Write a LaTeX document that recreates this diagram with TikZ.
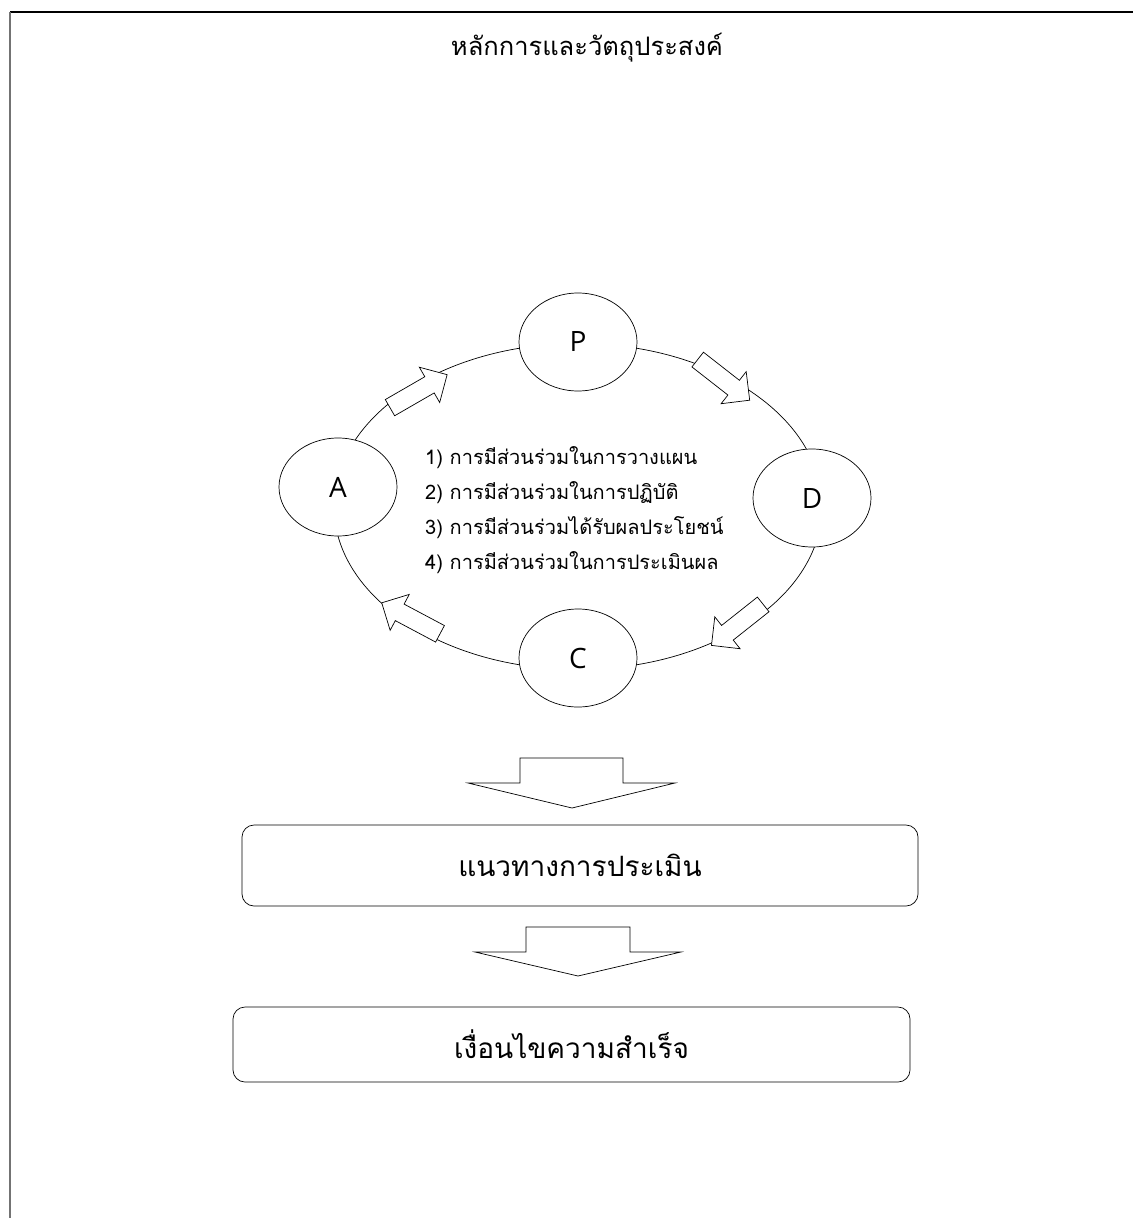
\documentclass[tikz,border=0pt]{standalone}
\usepackage{fontspec}
\newfontfamily\thaifont[Script=Thai]{Loma}
\newfontfamily\latinfont{Open Sans}
\usetikzlibrary{shapes.geometric,shapes.arrows}
\tikzset{
  phase/.style={draw, ellipse, fill=white, line width=0.7pt, minimum width=118pt, minimum height=98pt, inner sep=0pt, font=\latinfont\fontsize{28}{32}\selectfont},
  cyclearrow/.style={draw, fill=white, line width=0.7pt, single arrow, single arrow head extend=11pt, inner sep=9pt, minimum height=66pt},
  stagebox/.style={draw, rounded corners=12pt, line width=0.7pt, inner sep=0pt, font=\thaifont\fontsize{28}{32}\selectfont},
  downarrow/.style={draw, fill=white, line width=0.7pt},
}
\begin{document}
\begin{tikzpicture}[x=1pt,y=-1pt]
\useasboundingbox (0,0) rectangle (1133,1218);
% page frame
\coordinate (tl) at (10,12);
\coordinate (tr) at (1133,12);
\coordinate (bl) at (10,1218);
\draw[line width=1.3pt] (tl) -- (tr);
\draw[line width=2pt, black!55] (tl) -- (bl);
% title
\node[font=\thaifont\fontsize{25.5}{30}\selectfont] (title) at (587,48) {หลักการและวัตถุประสงค์};
% cycle
\node[draw, ellipse, line width=0.7pt, minimum width=488pt, minimum height=326pt, inner sep=0pt] (cycle) at (578,506.5) {};
\node[phase] (P) at (578,342) {P};
\node[phase] (A) at (338,487) {A};
\node[phase] (D) at (812,498) {D};
\node[phase] (C) at (578,658) {C};
% cycle arrows
\node[cyclearrow, rotate=30] (aUL) at (414.5,393.5) {};
\node[cyclearrow, rotate=-38] (aUR) at (720,377) {};
\node[cyclearrow, rotate=-141.6] (aLR) at (741,622) {};
\node[cyclearrow, rotate=152] (aLL) at (415,620.5) {};
% list
\node[anchor=west, align=left, inner sep=0pt, font=\thaifont\fontsize{20}{35}\selectfont] (list) at (425,510) {1) การมีส่วนร่วมในการวางแผน\\2) การมีส่วนร่วมในการปฏิบัติ\\3) การมีส่วนร่วมได้รับผลประโยชน์\\4) การมีส่วนร่วมในการประเมินผล};
% down arrow 1
\draw[downarrow] (520,758) -- (623,758) -- (623,783) -- (675,783) -- (572,808) -- (468,783) -- (520,783) -- cycle;
% box 1
\node[stagebox, minimum width=676pt, minimum height=81pt] (b1) at (580,865.5) {แนวทางการประเมิน};
% down arrow 2
\draw[downarrow] (526,927) -- (630,927) -- (630,952) -- (681,952) -- (578,976) -- (475,952) -- (526,952) -- cycle;
% box 2
\node[stagebox, minimum width=677pt, minimum height=75pt] (b2) at (571.5,1044.5) {เงื่อนไขความสำเร็จ};
\end{tikzpicture}
\end{document}
